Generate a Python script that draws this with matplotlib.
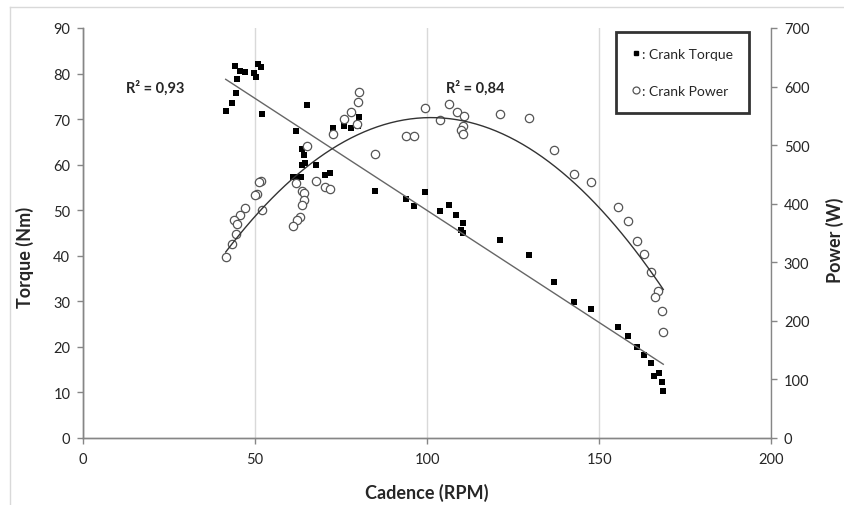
import numpy as np
import matplotlib.pyplot as plt
from matplotlib.lines import Line2D

plt.rcParams['font.family'] = ['Lato', 'DejaVu Sans']

# Crank torque (Nm) against cadence (RPM)
torque_rpm = [44.2, 45.7, 47.1, 51.0, 51.8, 49.8, 50.3, 44.7, 44.4, 43.4,
              41.5, 52.0, 65.0, 61.9, 72.6, 75.9, 77.9, 80.1, 79.9, 63.7,
              64.2, 63.6, 64.5, 67.7, 61.1, 62.6, 63.3, 70.4, 71.9, 84.8,
              99.4, 93.8, 96.3, 103.7, 106.4, 108.4, 110.5, 109.8, 110.3, 121.2,
              129.7, 136.9, 142.8, 147.6, 155.4, 158.3, 160.9, 163.0, 164.9, 167.4,
              166.0, 168.3, 168.6]
torque_nm = [81.6, 80.6, 80.4, 82.1, 81.4, 80.1, 79.3, 78.8, 75.7, 73.5,
             71.7, 71.1, 73.1, 67.4, 68.0, 68.4, 68.0, 70.4, 68.4, 63.4,
             62.2, 60.0, 60.4, 59.9, 57.2, 57.4, 57.4, 57.7, 58.2, 54.3,
             53.9, 52.5, 51.0, 49.9, 51.1, 48.9, 47.3, 45.7, 44.9, 43.5,
             40.2, 34.2, 29.9, 28.3, 24.3, 22.3, 19.9, 18.2, 16.4, 14.2,
             13.7, 12.2, 10.3]

# Crank power (W) against cadence (RPM)
power_rpm = [80.2, 79.8, 77.9, 75.9, 79.7, 72.6, 65.0, 84.8, 61.9, 67.7,
             70.4, 71.9, 63.6, 64.2, 64.3, 63.6, 63.1, 62.1, 61.1, 51.8,
             51.3, 50.5, 50.0, 52.0, 47.1, 45.7, 44.0, 44.7, 44.4, 43.4,
             41.5, 99.4, 106.4, 108.6, 103.7, 110.7, 110.5, 109.8, 110.3, 121.2,
             129.7, 93.8, 96.3, 136.9, 142.8, 147.6, 155.4, 158.3, 160.9, 163.0,
             164.9, 167.2, 166.2, 168.3, 168.6]
power_w = [591, 573, 556, 545, 536, 519, 499, 485, 435, 439,
           428, 425, 422, 418, 407, 398, 378, 373, 362, 438,
           437, 417, 415, 390, 393, 381, 373, 365, 348, 331,
           309, 563, 571, 557, 543, 549, 532, 526, 519, 553,
           546, 515, 516, 492, 450, 437, 394, 370, 336, 314,
           284, 251, 241, 217, 181]

r2_torque = "R\u00b2 = 0,93"
r2_power = "R\u00b2 = 0,84"

W, H = 845, 506
fig = plt.figure(figsize=(W / 100, H / 100), dpi=100)

# outer chart frame (left and top edges)
frame_c = '#d9d9d9'
fig.add_artist(Line2D([10.5 / W, 10.5 / W], [0, 1 - 7.5 / H], transform=fig.transFigure,
                      color=frame_c, lw=1))
fig.add_artist(Line2D([10.5 / W, 1], [1 - 7.5 / H, 1 - 7.5 / H], transform=fig.transFigure,
                      color=frame_c, lw=1))

x0, x1, y0, y1 = 82.8, 771.4, 439, 29
ax = fig.add_axes([x0 / W, 1 - y0 / H, (x1 - x0) / W, (y0 - y1) / H])
ax2 = ax.twinx()

axis_c = '#868686'
text_c = '#262626'

ax.set_xlim(0, 200)
ax.set_ylim(0, 90)
ax2.set_ylim(0, 700)
ax.set_xticks(np.arange(0, 201, 50))
ax.set_yticks(np.arange(0, 91, 10))
ax2.set_yticks(np.arange(0, 701, 100))

ax.grid(axis='x', color='#d9d9d9', lw=1)
ax.set_axisbelow(True)

for a in (ax, ax2):
    a.spines['top'].set_visible(False)
    for s in ('left', 'right', 'bottom'):
        a.spines[s].set_color(axis_c)
        a.spines[s].set_linewidth(1)
    a.tick_params(colors=axis_c, labelcolor=text_c, labelsize=10.5, length=4, width=1)
ax.tick_params(axis='y', pad=5)
ax.tick_params(axis='x', pad=6)
ax2.tick_params(axis='y', pad=5)
ax.spines['right'].set_visible(False)

# data points
ax.scatter(torque_rpm, torque_nm, marker='s', s=20, color='black', zorder=3, linewidths=0)
ax2.scatter(power_rpm, power_w, marker='o', s=36, facecolor='white', edgecolor='#555555',
            linewidths=0.9, zorder=3)

# trend lines: linear for torque, second-order polynomial for power
tx = np.linspace(min(torque_rpm), max(torque_rpm), 200)
tc = np.polyfit(torque_rpm, torque_nm, 1)
ax.plot(tx, np.polyval(tc, tx), color='#666666', lw=1, zorder=4)

px = np.linspace(min(power_rpm), max(power_rpm), 200)
pc = np.polyfit(power_rpm, power_w, 2)
ax2.plot(px, np.polyval(pc, px), color='#333333', lw=1, zorder=4)

ax.text(21, 77, r2_torque, ha='center', va='center', fontsize=10.5, fontweight='bold', color=text_c)
ax.text(114, 77, r2_power, ha='center', va='center', fontsize=10.5, fontweight='bold', color=text_c)

# axis titles
fig.text(427 / W, 1 - 493 / H, 'Cadence (RPM)', ha='center', va='center',
         fontsize=13, fontweight='bold', color=text_c)
fig.text(25 / W, 1 - 257 / H, 'Torque (Nm)', ha='center', va='center', rotation=90,
         fontsize=13, fontweight='bold', color=text_c)
fig.text(835 / W, 1 - 240 / H, 'Power (W)', ha='center', va='center', rotation=90,
         fontsize=13, fontweight='bold', color=text_c)

handles = [Line2D([], [], ls='', marker='s', ms=3.5, color='black'),
           Line2D([], [], ls='', marker='o', ms=5, mfc='white', mec='#555555', mew=0.9)]
leg = ax2.legend(handles, [': Crank Torque', ': Crank Power'], loc='upper left',
                 bbox_to_anchor=(616 / W, 1 - 33 / H), bbox_transform=fig.transFigure,
                 frameon=True, fancybox=False, edgecolor='black', fontsize=10,
                 labelspacing=1.8, borderpad=1.15, handlelength=0.6, handletextpad=0.15,
                 borderaxespad=0)
leg.get_frame().set_linewidth(2)
for t in leg.get_texts():
    t.set_color(text_c)

fig.savefig('out.png', dpi=100)
